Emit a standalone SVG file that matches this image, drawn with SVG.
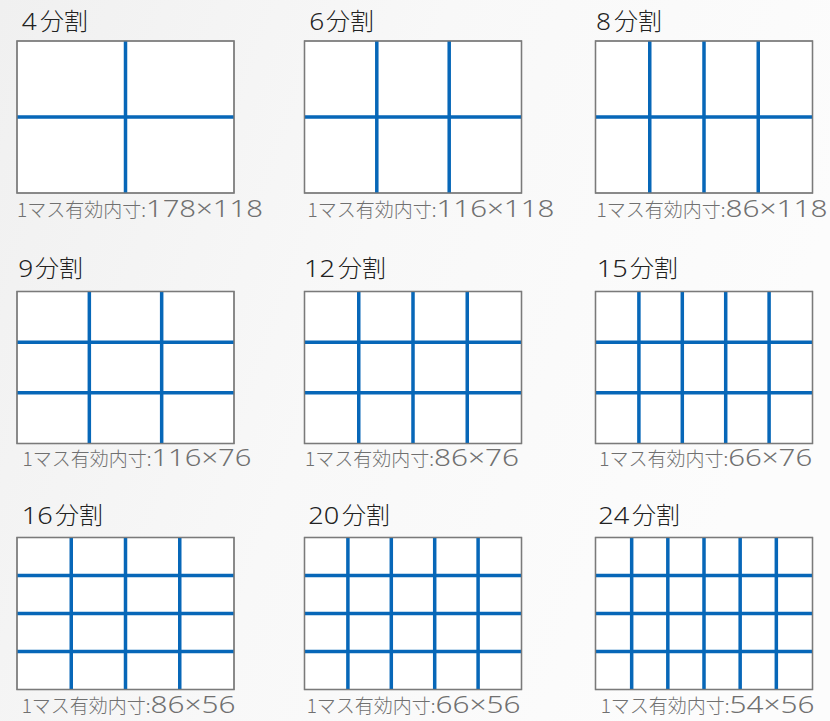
<svg xmlns="http://www.w3.org/2000/svg" width="830" height="721" viewBox="0 0 830 721">
<defs>
<linearGradient id="bg" x1="0" y1="0" x2="1" y2="0.3">
<stop offset="0" stop-color="#f0f0f0"/>
<stop offset="0.5" stop-color="#f8f8f8"/>
<stop offset="1" stop-color="#fcfcfc"/>
</linearGradient>
</defs>
<style>
.frame{fill:#fff;stroke:#7a7a7a;stroke-width:1.3}
.grid{stroke:#0767b8;stroke-width:3.5;fill:none}
.tn{font-family:"Noto Sans","Liberation Sans",sans-serif;font-size:24px;font-weight:300;fill:#222}
.tj{font-family:"Noto Sans CJK JP","Noto Sans",sans-serif;font-size:24px;font-weight:300;fill:#222}
.cap{fill:#707070;font-weight:300}
.cj{font-family:"Noto Sans CJK JP","Noto Sans",sans-serif;font-size:19px}
.cn{font-family:"Noto Sans","Liberation Sans",sans-serif;font-size:23px}
</style>
<rect width="830" height="721" fill="url(#bg)"/>

<g id="p4">
<rect class="frame" x="17" y="41" width="217" height="152"/>
<path class="grid" d="M125.5 41V193M17 117H234"/>
<rect x="17" y="41" width="217" height="152" fill="none" stroke="#7a7a7a" stroke-width="1.3"/>
<text class="tn" x="21.7" y="29.5" textLength="15" lengthAdjust="spacingAndGlyphs">4</text>
<text class="tj" x="40" y="29.5">分割</text>
<text class="cap" x="17" y="217.3"><tspan class="cj">1マス有効内寸:</tspan><tspan class="cn" textLength="117" lengthAdjust="spacingAndGlyphs">178×118</tspan></text>
</g>

<g id="p6">
<rect class="frame" x="304.5" y="41" width="217" height="152"/>
<path class="grid" d="M376.8 41V193M449.2 41V193M304.5 117H521.5"/>
<rect x="304.5" y="41" width="217" height="152" fill="none" stroke="#7a7a7a" stroke-width="1.3"/>
<text class="tn" x="309.3" y="29.5" textLength="15" lengthAdjust="spacingAndGlyphs">6</text>
<text class="tj" x="326" y="29.5">分割</text>
<text class="cap" x="307.5" y="217.3"><tspan class="cj">1マス有効内寸:</tspan><tspan class="cn" textLength="118" lengthAdjust="spacingAndGlyphs">116×118</tspan></text>
</g>

<g id="p8">
<rect class="frame" x="595.5" y="41" width="217" height="152"/>
<path class="grid" d="M649.75 41V193M704 41V193M758.25 41V193M595.5 117H812.5"/>
<rect x="595.5" y="41" width="217" height="152" fill="none" stroke="#7a7a7a" stroke-width="1.3"/>
<text class="tn" x="596" y="29.5" textLength="15" lengthAdjust="spacingAndGlyphs">8</text>
<text class="tj" x="614" y="29.5">分割</text>
<text class="cap" x="596.5" y="217.3"><tspan class="cj">1マス有効内寸:</tspan><tspan class="cn" textLength="102" lengthAdjust="spacingAndGlyphs">86×118</tspan></text>
</g>

<g id="p9">
<rect class="frame" x="17" y="291.5" width="217" height="152"/>
<path class="grid" d="M89.33 291.5V443.5M161.67 291.5V443.5M17 342.17H234M17 392.83H234"/>
<rect x="17" y="291.5" width="217" height="152" fill="none" stroke="#7a7a7a" stroke-width="1.3"/>
<text class="tn" x="18.3" y="276.7" textLength="15" lengthAdjust="spacingAndGlyphs">9</text>
<text class="tj" x="35" y="276.7">分割</text>
<text class="cap" x="22.5" y="466"><tspan class="cj">1マス有効内寸:</tspan><tspan class="cn" textLength="100" lengthAdjust="spacingAndGlyphs">116×76</tspan></text>
</g>

<g id="p12">
<rect class="frame" x="304.5" y="291.5" width="217" height="152"/>
<path class="grid" d="M358.75 291.5V443.5M413 291.5V443.5M467.25 291.5V443.5M304.5 342.17H521.5M304.5 392.83H521.5"/>
<rect x="304.5" y="291.5" width="217" height="152" fill="none" stroke="#7a7a7a" stroke-width="1.3"/>
<text class="tn" x="304" y="276.7" textLength="31" lengthAdjust="spacingAndGlyphs">12</text>
<text class="tj" x="338" y="276.7">分割</text>
<text class="cap" x="305" y="466"><tspan class="cj">1マス有効内寸:</tspan><tspan class="cn" textLength="85" lengthAdjust="spacingAndGlyphs">86×76</tspan></text>
</g>

<g id="p15">
<rect class="frame" x="595.5" y="291.5" width="217" height="152"/>
<path class="grid" d="M638.9 291.5V443.5M682.3 291.5V443.5M725.7 291.5V443.5M769.1 291.5V443.5M595.5 342.17H812.5M595.5 392.83H812.5"/>
<rect x="595.5" y="291.5" width="217" height="152" fill="none" stroke="#7a7a7a" stroke-width="1.3"/>
<text class="tn" x="596.7" y="276.7" textLength="31" lengthAdjust="spacingAndGlyphs">15</text>
<text class="tj" x="630" y="276.7">分割</text>
<text class="cap" x="599.3" y="466"><tspan class="cj">1マス有効内寸:</tspan><tspan class="cn" textLength="84" lengthAdjust="spacingAndGlyphs">66×76</tspan></text>
</g>

<g id="p16">
<rect class="frame" x="17" y="537.5" width="217" height="152"/>
<path class="grid" d="M71.25 537.5V689.5M125.5 537.5V689.5M179.75 537.5V689.5M17 575.5H234M17 613.5H234M17 651.5H234"/>
<rect x="17" y="537.5" width="217" height="152" fill="none" stroke="#7a7a7a" stroke-width="1.3"/>
<text class="tn" x="21.7" y="524.3" textLength="31" lengthAdjust="spacingAndGlyphs">16</text>
<text class="tj" x="55" y="524.3">分割</text>
<text class="cap" x="21.7" y="713"><tspan class="cj">1マス有効内寸:</tspan><tspan class="cn" textLength="85" lengthAdjust="spacingAndGlyphs">86×56</tspan></text>
</g>

<g id="p20">
<rect class="frame" x="304.5" y="537.5" width="217" height="152"/>
<path class="grid" d="M347.9 537.5V689.5M391.3 537.5V689.5M434.7 537.5V689.5M478.1 537.5V689.5M304.5 575.5H521.5M304.5 613.5H521.5M304.5 651.5H521.5"/>
<rect x="304.5" y="537.5" width="217" height="152" fill="none" stroke="#7a7a7a" stroke-width="1.3"/>
<text class="tn" x="308.3" y="524.3" textLength="31" lengthAdjust="spacingAndGlyphs">20</text>
<text class="tj" x="342" y="524.3">分割</text>
<text class="cap" x="306.7" y="713"><tspan class="cj">1マス有効内寸:</tspan><tspan class="cn" textLength="85" lengthAdjust="spacingAndGlyphs">66×56</tspan></text>
</g>

<g id="p24">
<rect class="frame" x="595.5" y="537.5" width="217" height="152"/>
<path class="grid" d="M631.67 537.5V689.5M667.83 537.5V689.5M704 537.5V689.5M740.17 537.5V689.5M776.33 537.5V689.5M595.5 575.5H812.5M595.5 613.5H812.5M595.5 651.5H812.5"/>
<rect x="595.5" y="537.5" width="217" height="152" fill="none" stroke="#7a7a7a" stroke-width="1.3"/>
<text class="tn" x="598.3" y="524.3" textLength="31" lengthAdjust="spacingAndGlyphs">24</text>
<text class="tj" x="632" y="524.3">分割</text>
<text class="cap" x="600.7" y="713"><tspan class="cj">1マス有効内寸:</tspan><tspan class="cn" textLength="85" lengthAdjust="spacingAndGlyphs">54×56</tspan></text>
</g>
</svg>
